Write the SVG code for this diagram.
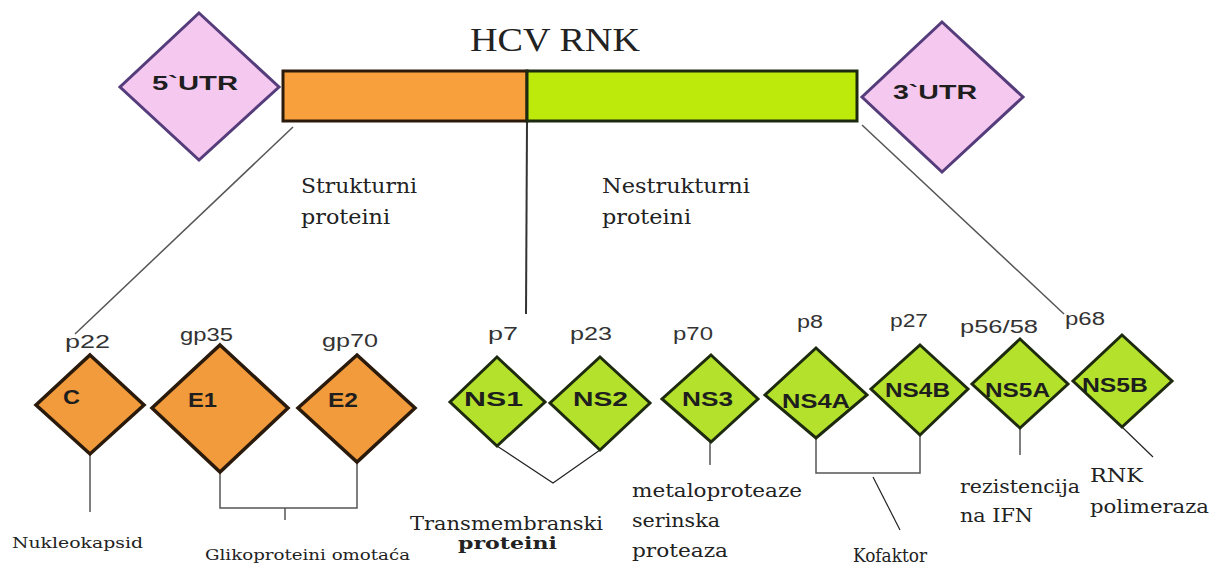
<svg xmlns="http://www.w3.org/2000/svg" width="1219" height="566" viewBox="0 0 1219 566">
<style>
.utr{fill:#F5C8F0;stroke:#553C7B;stroke-width:3}
.od{fill:#F29B3C;stroke:#2A1A0C;stroke-width:3.5}
.gd{fill:#B4E22C;stroke:#1E2A10;stroke-width:3}
.con{fill:none;stroke:#555;stroke-width:1.5}
.thin{fill:none;stroke:#222;stroke-width:1.2}
.sans{font-family:"Liberation Sans",Arial,sans-serif;fill:#333;font-size:18px}
.in{font-family:"Liberation Sans",Arial,sans-serif;fill:#1E1E1E;font-size:20px;font-weight:bold}
.ser{font-family:"DejaVu Serif","Liberation Serif",serif;fill:#222}
.tit{font-family:"Liberation Serif","Times New Roman",serif;fill:#222;font-size:34px}
</style>
<rect width="1219" height="566" fill="#fff"/>
<g id="title"><text class="tit" x="470" y="51" textLength="170" lengthAdjust="spacingAndGlyphs">HCV RNK</text></g>
<g id="connectors">
<line class="con" x1="293" y1="127" x2="75" y2="334"/>
<line x1="527" y1="121" x2="526" y2="314" stroke="#333" stroke-width="2"/>
<line class="con" x1="862" y1="125" x2="1064" y2="314"/>
<line class="con" x1="90" y1="454" x2="90" y2="512"/>
<polyline class="con" points="220,472 220,508 357,508 357,462"/>
<line class="con" x1="285" y1="508" x2="285" y2="520"/>
<polyline class="thin" points="497,446 553,483 600,450"/>
<line class="con" x1="710" y1="442" x2="710" y2="465"/>
<polyline class="con" points="816,438 816,473 920,473 920,435"/>
<line class="thin" x1="873" y1="477" x2="900" y2="530"/>
<line class="con" x1="1020" y1="428" x2="1020" y2="455"/>
<line class="thin" x1="1122" y1="427" x2="1153" y2="457"/>
</g>
<g id="utr5"><polygon class="utr" points="199,13 279,87 199,160 120,87"/><text class="in" x="152" y="90" textLength="86" lengthAdjust="spacingAndGlyphs">5`UTR</text></g>
<g id="bar-structural"><rect x="283" y="71" width="244" height="50" fill="#F7A03C" stroke="#2A1A0C" stroke-width="3"/></g>
<g id="bar-nonstructural"><rect x="527" y="71" width="330" height="50" fill="#BDEA0A" stroke="#1E2A10" stroke-width="3"/></g>
<g id="utr3"><polygon class="utr" points="942,22 1023,97 942,172 862,97"/><text class="in" x="893" y="99" textLength="84" lengthAdjust="spacingAndGlyphs">3`UTR</text></g>
<g id="label-struct"><text class="ser" x="301" y="193" style="font-size:21px" textLength="116" lengthAdjust="spacingAndGlyphs">Strukturni</text><text class="ser" x="301" y="224" style="font-size:21px" textLength="89" lengthAdjust="spacingAndGlyphs">proteini</text></g>
<g id="label-nonstruct"><text class="ser" x="602" y="193" style="font-size:21px" textLength="148" lengthAdjust="spacingAndGlyphs">Nestrukturni</text><text class="ser" x="602" y="224" style="font-size:21px" textLength="89" lengthAdjust="spacingAndGlyphs">proteini</text></g>
<g id="C"><polygon class="od" points="90,355 144,405 90,454 36,405"/><text class="in" x="63" y="404" textLength="17" lengthAdjust="spacingAndGlyphs">C</text><text class="sans" x="65" y="348" textLength="45" lengthAdjust="spacingAndGlyphs">p22</text></g>
<g id="E1"><polygon class="od" points="220,345 288,408 220,472 152,408"/><text class="in" x="188" y="407" textLength="29" lengthAdjust="spacingAndGlyphs">E1</text><text class="sans" x="180" y="341" textLength="53" lengthAdjust="spacingAndGlyphs">gp35</text></g>
<g id="E2"><polygon class="od" points="357,355 415,408 357,462 298,408"/><text class="in" x="328" y="407" textLength="30" lengthAdjust="spacingAndGlyphs">E2</text><text class="sans" x="322" y="347" textLength="56" lengthAdjust="spacingAndGlyphs">gp70</text></g>
<g id="NS1"><polygon class="gd" points="497,357 545,402 497,446 450,402"/><text class="in" x="464" y="406" textLength="59" lengthAdjust="spacingAndGlyphs">NS1</text><text class="sans" x="488" y="340" textLength="30" lengthAdjust="spacingAndGlyphs">p7</text></g>
<g id="NS2"><polygon class="gd" points="600,357 650,403 600,450 550,403"/><text class="in" x="573" y="406" textLength="55" lengthAdjust="spacingAndGlyphs">NS2</text><text class="sans" x="570" y="340" textLength="42" lengthAdjust="spacingAndGlyphs">p23</text></g>
<g id="NS3"><polygon class="gd" points="711,355 758,399 711,442 662,399"/><text class="in" x="682" y="406" textLength="51" lengthAdjust="spacingAndGlyphs">NS3</text><text class="sans" x="673" y="340" textLength="40" lengthAdjust="spacingAndGlyphs">p70</text></g>
<g id="NS4A"><polygon class="gd" points="816,348 867,395 816,438 765,395"/><text class="in" x="782" y="408" textLength="68" lengthAdjust="spacingAndGlyphs">NS4A</text><text class="sans" x="797" y="328" textLength="26" lengthAdjust="spacingAndGlyphs">p8</text></g>
<g id="NS4B"><polygon class="gd" points="920,345 968,389 920,435 871,389"/><text class="in" x="885" y="397" textLength="65" lengthAdjust="spacingAndGlyphs">NS4B</text><text class="sans" x="890" y="327" textLength="38" lengthAdjust="spacingAndGlyphs">p27</text></g>
<g id="NS5A"><polygon class="gd" points="1020,339 1068,384 1020,428 972,384"/><text class="in" x="985" y="397" textLength="65" lengthAdjust="spacingAndGlyphs">NS5A</text><text class="sans" x="960" y="333" textLength="78" lengthAdjust="spacingAndGlyphs">p56/58</text></g>
<g id="NS5B"><polygon class="gd" points="1122,335 1172,381 1122,427 1073,381"/><text class="in" x="1082" y="392" textLength="66" lengthAdjust="spacingAndGlyphs">NS5B</text><text class="sans" x="1065" y="325" textLength="40" lengthAdjust="spacingAndGlyphs">p68</text></g>
<g id="desc">
<text class="ser" x="12" y="548" style="font-size:15px" textLength="131" lengthAdjust="spacingAndGlyphs">Nukleokapsid</text>
<text class="ser" x="205" y="560" style="font-size:15px" textLength="205" lengthAdjust="spacingAndGlyphs">Glikoproteini omotaća</text>
<text class="ser" x="410" y="530" style="font-size:18px" textLength="193" lengthAdjust="spacingAndGlyphs">Transmembranski</text>
<text class="ser" x="458" y="549" style="font-size:17px;font-weight:bold" textLength="99" lengthAdjust="spacingAndGlyphs">proteini</text>
<text class="ser" x="632" y="497" style="font-size:18px" textLength="170" lengthAdjust="spacingAndGlyphs">metaloproteaze</text>
<text class="ser" x="632" y="527" style="font-size:18px" textLength="88" lengthAdjust="spacingAndGlyphs">serinska</text>
<text class="ser" x="632" y="557" style="font-size:18px" textLength="96" lengthAdjust="spacingAndGlyphs">proteaza</text>
<text class="ser" x="853" y="562" style="font-size:19px" textLength="74" lengthAdjust="spacingAndGlyphs">Kofaktor</text>
<text class="ser" x="960" y="493" style="font-size:18px" textLength="120" lengthAdjust="spacingAndGlyphs">rezistencija</text>
<text class="ser" x="960" y="522" style="font-size:18px" textLength="73" lengthAdjust="spacingAndGlyphs">na IFN</text>
<text class="ser" x="1090" y="482" style="font-size:18px" textLength="53" lengthAdjust="spacingAndGlyphs">RNK</text>
<text class="ser" x="1090" y="513" style="font-size:18px" textLength="119" lengthAdjust="spacingAndGlyphs">polimeraza</text>
</g>
</svg>
